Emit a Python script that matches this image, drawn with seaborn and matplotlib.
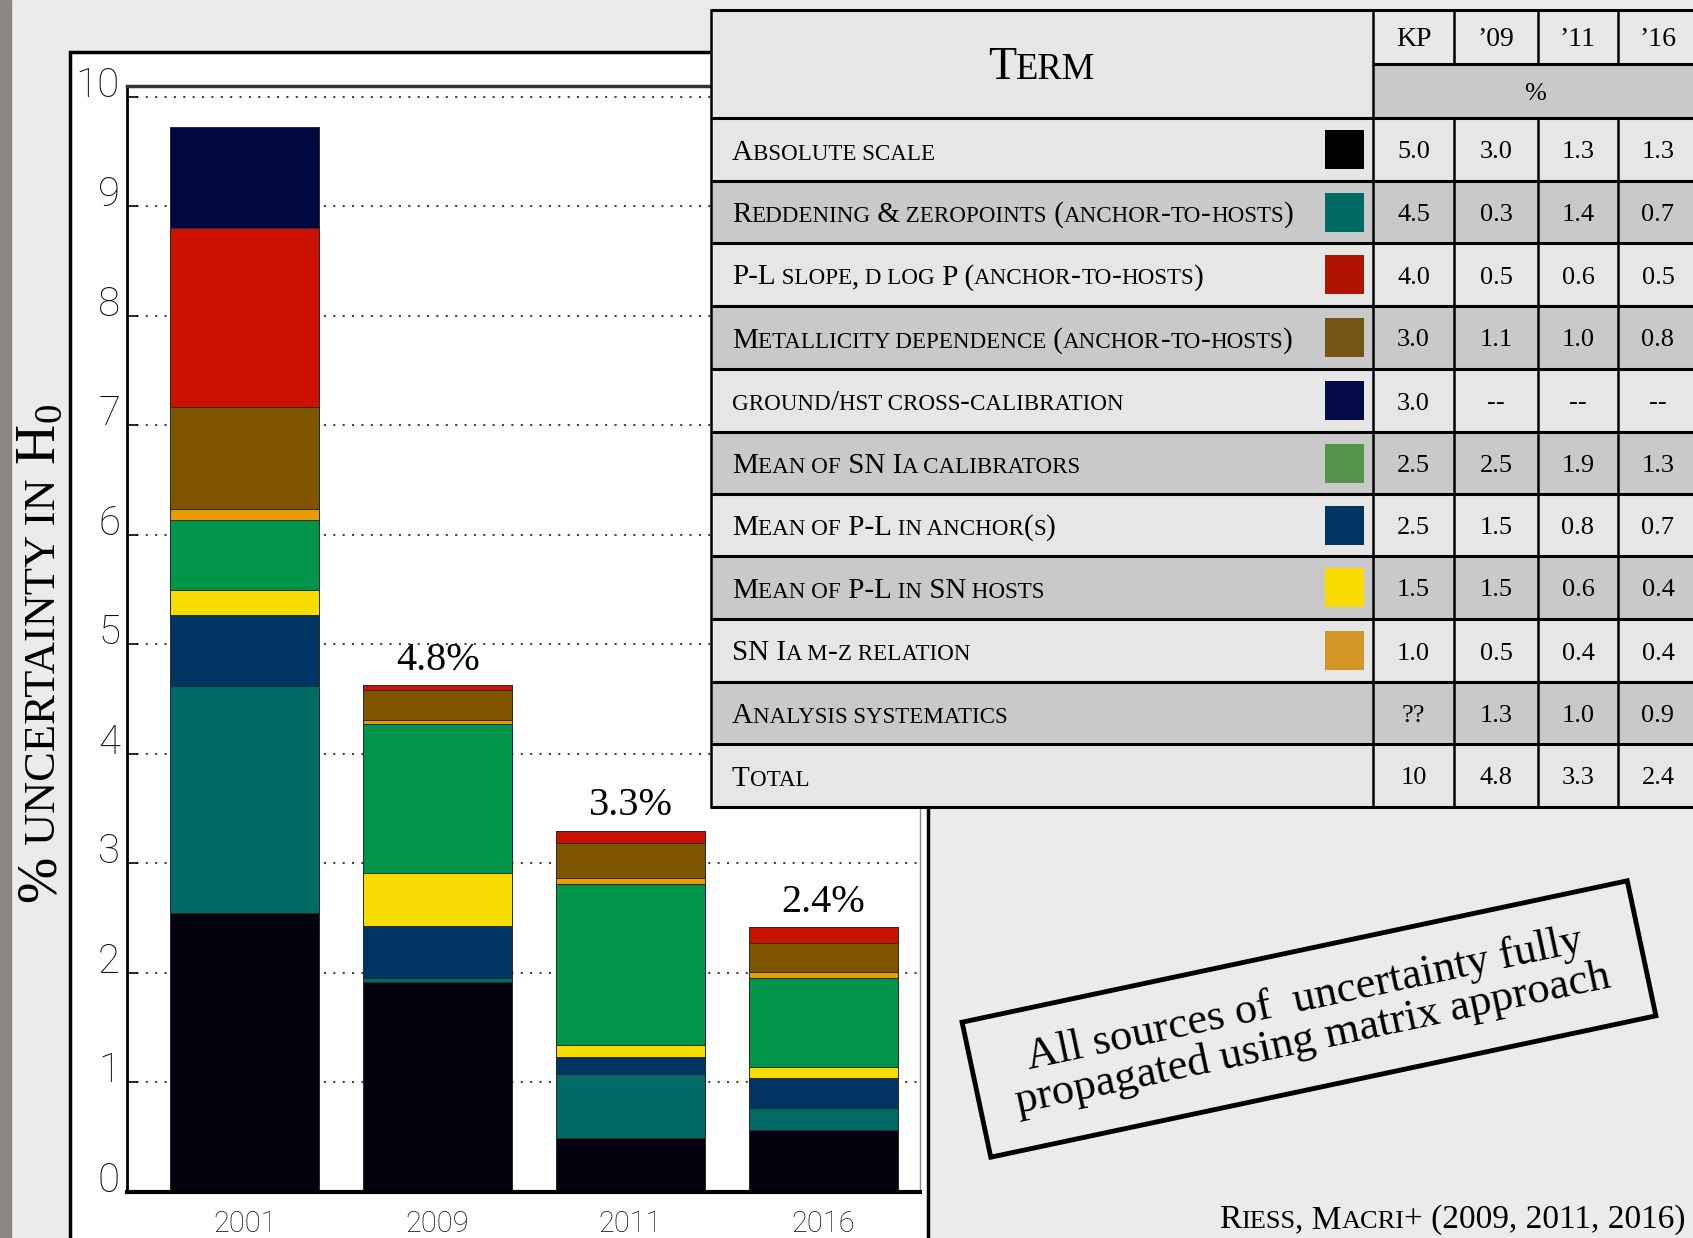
import numpy as np
import matplotlib
matplotlib.use('Agg')
import matplotlib.pyplot as plt
import seaborn as sns
from matplotlib.patches import Rectangle

W, H = 1693, 1238

years = ['2001', '2009', '2011', '2016']

# bar segments, bottom to top (% uncertainty in H0)
absolute_scale = [2.55, 1.92, 0.49, 0.57]
reddening      = [2.07, 0.03, 0.59, 0.20]
pl_anchor      = [0.65, 0.48, 0.15, 0.27]
pl_hosts       = [0.23, 0.48, 0.11, 0.10]
sn_calibrators = [0.64, 1.36, 1.47, 0.81]
sn_mz          = [0.10, 0.04, 0.06, 0.06]
metallicity    = [0.93, 0.27, 0.32, 0.26]
pl_slope       = [1.63, 0.05, 0.11, 0.15]
ground_hst     = [0.93, 0.00, 0.00, 0.00]
bar_labels = ['', '4.8%', '3.3%', '2.4%']

# table contents
terms = ['Absolute scale',
         'Reddening & zeropoints (anchor-to-hosts)',
         'P-L slope, d log P (anchor-to-hosts)',
         'Metallicity dependence (anchor-to-hosts)',
         'ground/hst cross-calibration',
         'Mean of SN Ia calibrators',
         'Mean of P-L in anchor(s)',
         'Mean of P-L in SN hosts',
         'SN Ia m-z relation',
         'Analysis systematics',
         'Total']
col_heads = ['KP', '\u201909', '\u201911', '\u201916']
kp  = ['5.0', '4.5', '4.0', '3.0', '3.0', '2.5', '2.5', '1.5', '1.0', '??', '10']
r09 = ['3.0', '0.3', '0.5', '1.1', '--', '2.5', '1.5', '1.5', '0.5', '1.3', '4.8']
r11 = ['1.3', '1.4', '0.6', '1.0', '--', '1.9', '0.8', '0.6', '0.4', '1.0', '3.3']
r16 = ['1.3', '0.7', '0.5', '0.8', '--', '1.3', '0.7', '0.4', '0.4', '0.9', '2.4']

layers = [absolute_scale, reddening, pl_anchor, pl_hosts, sn_calibrators,
          sn_mz, metallicity, pl_slope, ground_hst]
bar_colors = ['#03030f', '#006a65', '#003462', '#f7dc00', '#00964a',
              '#ea9b00', '#805500', '#cc1100', '#000842']
swatch_colors = ['#000000', '#006b63', '#b01400', '#735515', '#020b45',
                 '#55954b', '#003562', '#f8dc00', '#d39526']

serif = 'Liberation Serif'
sans = ['Roboto', 'Liberation Sans']
plt.rcParams['mathtext.fontset'] = 'custom'
plt.rcParams['mathtext.rm'] = serif
plt.rcParams['mathtext.it'] = serif + ':italic'

fig = plt.figure(figsize=(W / 100, H / 100), dpi=100, facecolor='#ebebeb')

# background: left strip and white panel
bg = fig.add_axes([0, 0, 1, 1], zorder=0)
bg.set_xlim(0, W)
bg.set_ylim(H, 0)
bg.axis('off')
bg.add_patch(Rectangle((0, 0), 11, H, color='#8a8780'))
bg.add_patch(Rectangle((70, 52), 858, 1250, facecolor='white', edgecolor='black', lw=2.5))

# stacked bars
ax = fig.add_axes([127 / W, (H - 1192) / H, 793 / W, 1106 / H], zorder=1)
cum = np.cumsum(np.array(layers), axis=0)
for i in range(len(layers) - 1, -1, -1):
    sns.barplot(x=years, y=cum[i], color=bar_colors[i], saturation=1, width=0.77,
                edgecolor='#2b2b2b', linewidth=0.7, ax=ax)

totals = cum[-1]
for i, lab in enumerate(bar_labels):
    if lab:
        ax.text(i, totals[i] + 0.14, lab, ha='center', va='baseline',
                fontsize=29, family=serif)

ax.set_ylim(0, 10.1)
ax.set_xlim(-0.61, 3.5)
ax.set_yticks(range(11))
ax.set_yticklabels([str(v) for v in range(11)])
ax.tick_params(axis='y', direction='in', length=8, width=1.2, labelsize=29, pad=5,
               labelcolor='#111111')
ax.tick_params(axis='x', direction='in', length=0, labelsize=21, pad=13,
               labelcolor='#111111')
for lab in ax.get_yticklabels():
    lab.set_verticalalignment('baseline')
    lab.set_family(sans)
    lab.set_fontweight('light')
for lab in ax.get_xticklabels():
    lab.set_family(sans)
    lab.set_fontweight('light')
ax.set_xlabel('')
ax.set_ylabel('')
ax.yaxis.grid(True, ls=(0, (1, 3.5)), color='#444444', lw=1.5)
ax.xaxis.grid(False)
ax.set_axisbelow(True)
ax.set_facecolor('white')
ax.spines['left'].set_linewidth(2)
ax.spines['bottom'].set_linewidth(3)
ax.spines['top'].set_linewidth(2.5)
ax.spines['top'].set_color('#333333')
ax.spines['right'].set_linewidth(1)
ax.spines['right'].set_color('#888888')

# overlay in pixel coordinates
top = fig.add_axes([0, 0, 1, 1], zorder=2)
top.set_xlim(0, W)
top.set_ylim(H, 0)
top.axis('off')

renderer = fig.canvas.get_renderer()


def small_caps(x, y, s, size, ha='left', rot=0, ratio=0.79, **kw):
    runs = []
    pending = ''
    for ch in s:
        if ch == ' ':
            pending += ch
            continue
        low = ch.islower()
        if runs and runs[-1][1] == low:
            runs[-1][0] += pending + ch
        else:
            runs.append([pending + ch, low])
        pending = ''
    texts = []
    for txt, low in runs:
        t = top.text(0, 0, txt.upper() if low else txt,
                     fontsize=size * ratio if low else size, family=serif,
                     rotation=rot, rotation_mode='anchor', ha='left', va='baseline', **kw)
        texts.append(t)
    adv = []
    for t in texts:
        bb = t.get_window_extent(renderer)
        adv.append(bb.height if rot else bb.width)
    total = sum(adv)
    start = {'left': 0, 'center': -total / 2, 'right': -total}[ha]
    for t, a in zip(texts, adv):
        if rot:
            t.set_position((x, y - start))
        else:
            t.set_position((x + start, y))
        start += a


# y label
small_caps(55, 653, '% uncertainty in H$_0$', 40, ha='center', rot=90, ratio=0.8)

# table
col_edges = [711, 1373, 1454, 1538, 1618, 1698]
row_edges = [10, 64, 118, 181, 243, 306, 369, 432, 494, 556, 619, 682, 744, 807]
light, dark = '#e6e6e6', '#c9c9c9'

top.add_patch(Rectangle((col_edges[0], row_edges[0]), col_edges[1] - col_edges[0],
                        row_edges[2] - row_edges[0], facecolor=light, lw=0))
top.add_patch(Rectangle((col_edges[1], row_edges[0]), col_edges[-1] - col_edges[1],
                        row_edges[1] - row_edges[0], facecolor='#e8e8e8', lw=0))
top.add_patch(Rectangle((col_edges[1], row_edges[1]), col_edges[-1] - col_edges[1],
                        row_edges[2] - row_edges[1], facecolor=dark, lw=0))
for r in range(len(terms)):
    y0, y1 = row_edges[r + 2], row_edges[r + 3]
    top.add_patch(Rectangle((col_edges[0], y0), col_edges[-1] - col_edges[0], y1 - y0,
                            facecolor=light if r % 2 == 0 else dark, lw=0))

# grid lines
for k, y in enumerate(row_edges):
    x0 = col_edges[1] if k == 1 else col_edges[0]
    top.plot([x0, col_edges[-1]], [y, y], color='black', lw=2.2, solid_capstyle='butt')
for k, x in enumerate(col_edges):
    if k in (0, 1):
        top.plot([x, x], [row_edges[0], row_edges[-1]], color='black', lw=1.8)
    else:
        top.plot([x, x], [row_edges[0], row_edges[1]], color='black', lw=1.8)
        top.plot([x, x], [row_edges[2], row_edges[-1]], color='black', lw=1.8)

# header
small_caps((col_edges[0] + col_edges[1]) / 2, 79, 'Term', 33, ha='center', ratio=0.8)
for c, head in enumerate(col_heads):
    xc = (col_edges[c + 1] + col_edges[c + 2]) / 2
    top.text(xc, 46, head, ha='center', va='baseline', fontsize=20, family=serif)
top.text((col_edges[1] + col_edges[-1]) / 2, 100, '%', ha='center', va='baseline',
         fontsize=19, family=serif)

# body
for r, term in enumerate(terms):
    yc = (row_edges[r + 2] + row_edges[r + 3]) / 2
    small_caps(732, yc + 10, term, 21, ratio=0.79)
    if r < len(swatch_colors):
        top.add_patch(Rectangle((1325, yc - 19.5), 39, 39, facecolor=swatch_colors[r], lw=0))
    for c, vals in enumerate([kp, r09, r11, r16]):
        xc = (col_edges[c + 1] + col_edges[c + 2]) / 2
        top.text(xc, yc + 9, vals[r], ha='center', va='baseline', fontsize=19, family=serif)

# rotated note box
top.add_patch(Rectangle((1309 - 340, 1019 - 69), 680, 138, angle=-12, rotation_point='center',
                        fill=False, edgecolor='black', lw=3.5))
top.text(1309, 1019, 'All sources of  uncertainty fully\npropagated using matrix approach',
         ha='center', va='center', rotation=12, rotation_mode='anchor', multialignment='center',
         fontsize=32, family=serif, linespacing=1.0)

# citation
small_caps(1686, 1228, 'Riess, Macri+ (2009, 2011, 2016)', 24, ha='right', ratio=0.79)

fig.savefig('out.png', dpi=100, facecolor=fig.get_facecolor())
